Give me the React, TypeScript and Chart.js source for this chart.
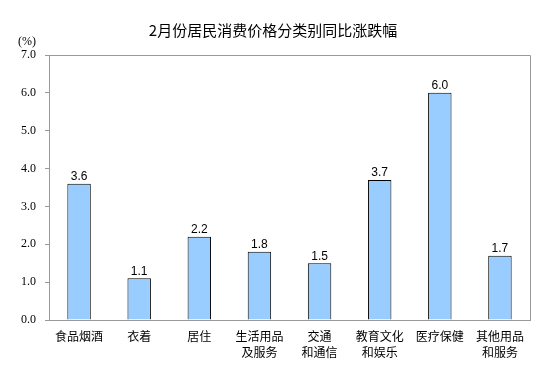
import React, { useEffect, useRef } from "react";
import { Chart, registerables } from "chart.js";

Chart.register(...registerables);

const TITLE = "2月份居民消费价格分类别同比涨跌幅";
const UNIT = "(%)";
const categories: string[][] = [
  ["食品烟酒"],
  ["衣着"],
  ["居住"],
  ["生活用品", "及服务"],
  ["交通", "和通信"],
  ["教育文化", "和娱乐"],
  ["医疗保健"],
  ["其他用品", "和服务"],
];
const values: number[] = [3.6, 1.1, 2.2, 1.8, 1.5, 3.7, 6.0, 1.7];
const yMin = 0;
const yMax = 7;
const yStep = 1;

const CJK = '"Noto Sans CJK SC", sans-serif';

export default function App() {
  const ref = useRef<HTMLCanvasElement | null>(null);
  useEffect(() => {
    document.body.style.margin = "0";
    const canvas = ref.current!;
    const decor = {
      id: "decor",
      afterDraw(chart: any) {
        const { ctx, chartArea } = chart;
        ctx.save();
        ctx.strokeStyle = "#999999";
        ctx.lineWidth = 1;
        ctx.beginPath();
        ctx.moveTo(chartArea.left, Math.round(chartArea.top) + 0.5);
        ctx.lineTo(Math.round(chartArea.right) + 0.5, Math.round(chartArea.top) + 0.5);
        ctx.lineTo(Math.round(chartArea.right) + 0.5, chartArea.bottom + 0.5);
        ctx.stroke();
        ctx.fillStyle = "#000";
        ctx.font = "15px " + CJK;
        ctx.textAlign = "center";
        ctx.textBaseline = "middle";
        ctx.fillText(TITLE, 273, 30);
        ctx.font = '12px "Liberation Serif", serif';
        ctx.fillText(UNIT, 27, 42);
        const meta = chart.getDatasetMeta(0);
        ctx.font = '12px "Liberation Sans", Arial, sans-serif';
        ctx.textBaseline = "bottom";
        meta.data.forEach((el: any, i: number) => {
          ctx.fillText(values[i].toFixed(1), el.x, el.y - 1);
        });
        ctx.restore();
      },
    };
    const chart = new Chart(canvas, {
      type: "bar",
      data: {
        labels: categories,
        datasets: [
          {
            data: values,
            backgroundColor: "#99CCFF",
            borderColor: "#000000",
            borderWidth: 1,
            barPercentage: 0.78,
            categoryPercentage: 0.5,
          },
        ],
      },
      options: {
        animation: false,
        responsive: false,
        maintainAspectRatio: false,
        layout: { padding: { top: 55, right: 23, left: 0, bottom: 0 } },
        plugins: {
          legend: { display: false },
          tooltip: { enabled: false },
          title: { display: false },
        },
        scales: {
          x: {
            grid: { display: false, drawTicks: false },
            border: { display: true, color: "#999999" },
            ticks: {
              color: "#000",
              font: { family: CJK, size: 12, lineHeight: 1.3 },
              padding: 9,
              maxRotation: 0,
              autoSkip: false,
            },
            afterFit: (s: any) => {
              s.height = 64;
              s.paddingLeft = 0;
              s.paddingRight = 0;
            },
          },
          y: {
            min: yMin,
            max: yMax,
            grid: {
              drawOnChartArea: false,
              drawTicks: true,
              tickLength: 4,
              color: "#999999",
            },
            border: { display: true, color: "#999999" },
            ticks: {
              stepSize: yStep,
              color: "#000",
              font: { family: '"Liberation Serif", serif', size: 12 },
              padding: 9,
              callback: (v: any) => Number(v).toFixed(1),
            },
            afterFit: (s: any) => {
              s.width = 49;
            },
          },
        },
      },
      plugins: [decor],
    });
    return () => chart.destroy();
  }, []);
  return (
    <div style={{ position: "absolute", left: 0, top: 0, width: 553, height: 384, background: "#fff" }}>
      <canvas ref={ref} width={553} height={384} style={{ width: 553, height: 384 }} />
    </div>
  );
}
